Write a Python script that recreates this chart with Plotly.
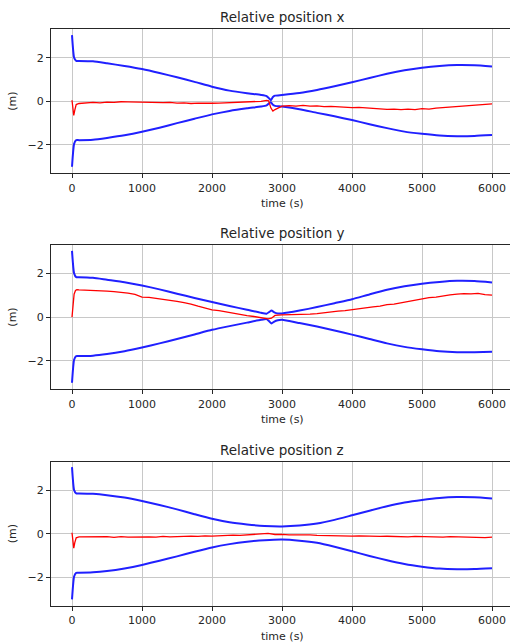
import plotly.graph_objects as go

# ---------------- data ----------------
# Panel x: bounds
tb_x = [0, 30, 60, 100, 300, 500, 750, 1000, 1250, 1500, 1750, 2000, 2250, 2500, 2700, 2780, 2820, 2840,
        2870, 2900, 3000, 3250, 3500, 3750, 4000, 4250, 4500, 4750, 5000, 5250, 5500, 5750, 6000]
up_x = [3.03, 2.0, 1.85, 1.85, 1.83, 1.74, 1.62, 1.48, 1.30, 1.10, 0.89, 0.67, 0.49, 0.37, 0.29, 0.24, 0.12, 0.05,
        0.20, 0.26, 0.29, 0.38, 0.52, 0.69, 0.87, 1.07, 1.26, 1.42, 1.54, 1.62, 1.66, 1.65, 1.60]
lo_x = [-3.0, -1.95, -1.78, -1.78, -1.76, -1.68, -1.56, -1.40, -1.21, -1.00, -0.80, -0.60, -0.44, -0.32, -0.24, -0.19, -0.08, -0.04,
        -0.16, -0.21, -0.24, -0.36, -0.53, -0.69, -0.86, -1.05, -1.23, -1.39, -1.49, -1.57, -1.60, -1.59, -1.55]
# Panel x: estimate
tr_x = [0, 10, 25, 40, 60, 100, 200, 300, 400, 500, 600, 700, 800, 900, 1000, 1100, 1200, 1300, 1400, 1500,
        1600, 1700, 1800, 1900, 2000, 2100, 2200, 2300, 2400, 2500, 2600, 2700, 2780, 2810, 2840, 2870, 2900,
        2950, 3000, 3100, 3200, 3300, 3400, 3500, 3600, 3700, 3800, 3900, 4000, 4100, 4200, 4300, 4400, 4500,
        4600, 4700, 4800, 4900, 5000, 5100, 5200, 5300, 5400, 5500, 5600, 5700, 5800, 5900, 6000]
est_x = [0.05, -0.30, -0.65, -0.40, -0.15, -0.10, -0.08, -0.05, -0.07, -0.04, -0.05, -0.02, -0.03, -0.04, -0.02,
         -0.05, -0.04, -0.06, -0.05, -0.08, -0.07, -0.10, -0.08, -0.10, -0.09, -0.08, -0.07, -0.06, -0.06, -0.04,
         -0.03, 0.00, 0.04, 0.02, -0.30, -0.45, -0.38, -0.28, -0.22, -0.20, -0.22, -0.19, -0.22, -0.21, -0.24,
         -0.23, -0.26, -0.27, -0.29, -0.28, -0.31, -0.33, -0.34, -0.37, -0.36, -0.38, -0.36, -0.38, -0.34, -0.36,
         -0.31, -0.29, -0.27, -0.24, -0.23, -0.19, -0.17, -0.15, -0.12]

# Panel y: bounds
tb_y = [0, 30, 60, 100, 300, 500, 750, 1000, 1250, 1500, 1750, 2000, 2250, 2500, 2700, 2780, 2820, 2850,
        2890, 2940, 3000, 3250, 3500, 3750, 4000, 4250, 4500, 4750, 5000, 5250, 5500, 5750, 6000]
up_y = [3.03, 2.0, 1.83, 1.83, 1.80, 1.71, 1.60, 1.45, 1.27, 1.07, 0.88, 0.69, 0.51, 0.34, 0.20, 0.16, 0.24, 0.30,
        0.22, 0.17, 0.17, 0.30, 0.46, 0.64, 0.82, 1.04, 1.25, 1.41, 1.53, 1.61, 1.66, 1.65, 1.59]
lo_y = [-3.0, -1.95, -1.78, -1.78, -1.76, -1.69, -1.56, -1.39, -1.20, -1.00, -0.79, -0.58, -0.41, -0.25, -0.12, -0.09, -0.20, -0.29,
        -0.20, -0.14, -0.12, -0.27, -0.43, -0.61, -0.80, -1.00, -1.20, -1.36, -1.47, -1.56, -1.60, -1.60, -1.58]
tr_y = [0, 10, 30, 50, 70, 100, 200, 300, 400, 500, 600, 700, 800, 900, 1000, 1100, 1200, 1300, 1400, 1500,
        1600, 1700, 1800, 1900, 2000, 2100, 2200, 2300, 2400, 2500, 2600, 2700, 2800, 2850, 2900, 3000, 3100,
        3200, 3300, 3400, 3500, 3600, 3700, 3800, 3900, 4000, 4100, 4200, 4300, 4400, 4500, 4600, 4700, 4800,
        4900, 5000, 5100, 5200, 5300, 5400, 5500, 5600, 5700, 5800, 5900, 6000]
est_y = [0.00, 0.45, 1.05, 1.22, 1.26, 1.25, 1.24, 1.21, 1.23, 1.19, 1.17, 1.14, 1.10, 1.04, 0.92, 0.90, 0.86,
         0.83, 0.76, 0.72, 0.66, 0.60, 0.50, 0.43, 0.33, 0.30, 0.24, 0.20, 0.11, 0.07, 0.03, -0.02, -0.08, -0.05,
         0.08, 0.10, 0.11, 0.09, 0.13, 0.14, 0.16, 0.21, 0.23, 0.28, 0.30, 0.35, 0.38, 0.43, 0.47, 0.50, 0.57,
         0.60, 0.66, 0.70, 0.77, 0.85, 0.89, 0.92, 0.98, 1.02, 1.05, 1.08, 1.06, 1.09, 1.03, 1.01]

# Panel z: bounds
tb_z = [0, 30, 60, 100, 300, 500, 750, 1000, 1250, 1500, 1750, 2000, 2250, 2500, 2750, 3000, 3250, 3500,
        3750, 4000, 4250, 4500, 4750, 5000, 5250, 5500, 5750, 6000]
up_z = [3.05, 2.0, 1.85, 1.85, 1.83, 1.77, 1.66, 1.50, 1.32, 1.12, 0.90, 0.69, 0.53, 0.43, 0.36, 0.34, 0.38, 0.47,
        0.64, 0.85, 1.06, 1.26, 1.43, 1.55, 1.64, 1.68, 1.67, 1.62]
lo_z = [-3.0, -1.95, -1.78, -1.78, -1.76, -1.70, -1.58, -1.42, -1.23, -1.03, -0.82, -0.62, -0.47, -0.36, -0.29, -0.26, -0.31, -0.41,
        -0.59, -0.80, -1.01, -1.21, -1.38, -1.50, -1.59, -1.62, -1.61, -1.57]
tr_z = [0, 10, 25, 40, 60, 100, 200, 300, 400, 500, 600, 700, 800, 900, 1000, 1100, 1200, 1300, 1400, 1500,
        1600, 1700, 1800, 1900, 2000, 2100, 2200, 2300, 2400, 2500, 2600, 2700, 2800, 2900, 3000, 3100, 3200,
        3300, 3400, 3500, 3600, 3700, 3800, 3900, 4000, 4100, 4200, 4300, 4400, 4500, 4600, 4700, 4800, 4900,
        5000, 5100, 5200, 5300, 5400, 5500, 5600, 5700, 5800, 5900, 6000]
est_z = [0.05, -0.30, -0.65, -0.40, -0.18, -0.14, -0.13, -0.15, -0.12, -0.13, -0.16, -0.13, -0.15, -0.14, -0.16,
         -0.14, -0.15, -0.12, -0.14, -0.12, -0.13, -0.10, -0.12, -0.09, -0.10, -0.08, -0.09, -0.06, -0.07, -0.05,
         -0.04, 0.00, 0.02, -0.03, -0.02, -0.05, -0.04, -0.06, -0.05, -0.07, -0.08, -0.06, -0.09, -0.08, -0.10,
         -0.09, -0.11, -0.10, -0.12, -0.11, -0.13, -0.12, -0.14, -0.12, -0.13, -0.11, -0.14, -0.15, -0.13, -0.14,
         -0.16, -0.14, -0.15, -0.17, -0.15]

titles = ["Relative position x", "Relative position y", "Relative position z"]
x_ticks = [0, 1000, 2000, 3000, 4000, 5000, 6000]
y_ticks = [-2, 0, 2]
x_label = "time (s)"
y_label = "(m)"

# ---------------- layout geometry (pixels) ----------------
W, H = 510, 642
L = 51
PW = W - L
panels_px = [(29.3, 173.3), (245.0, 389.3), (461.7, 606.0)]
CX = (282 - L) / PW  # horizontal centre of the (partly off-page) axes box
BLUE = "#2020ff"
RED = "#ff0000"
FONT = "DejaVu Sans"
TXT = "#262626"

panels = [
    (tb_x, up_x, lo_x, tr_x, est_x),
    (tb_y, up_y, lo_y, tr_y, est_y),
    (tb_z, up_z, lo_z, tr_z, est_z),
]

fig = go.Figure()
annotations = []
layout = {}
for i, (tb, up, lo, tr, est) in enumerate(panels):
    n = "" if i == 0 else str(i + 1)
    xa, ya = "x" + n, "y" + n
    for b in (up, lo):
        fig.add_trace(go.Scatter(x=tb, y=b, mode="lines",
                                 line=dict(color=BLUE, width=2, shape="spline", smoothing=0.5),
                                 xaxis=xa, yaxis=ya, showlegend=False))
    fig.add_trace(go.Scatter(x=tr, y=est, mode="lines", line=dict(color=RED, width=1.3),
                             xaxis=xa, yaxis=ya, showlegend=False))
    top, bot = panels_px[i]
    dom = [1 - bot / H, 1 - top / H]
    common = dict(showgrid=True, gridcolor="#c8c8c8", gridwidth=1, zeroline=False,
                  showline=True, linecolor=TXT, linewidth=1,
                  ticks="outside", ticklen=4, tickcolor=TXT, tickwidth=1,
                  tickfont=dict(family=FONT, size=11, color=TXT))
    layout["xaxis" + n] = dict(common, domain=[0, 1], anchor=ya, range=[-300, 6257],
                               tickvals=x_ticks, mirror=True, automargin=False)
    layout["yaxis" + n] = dict(common, domain=dom, anchor=xa, range=[-3.3, 3.3],
                               tickvals=y_ticks, automargin=False)
    annotations.append(dict(text=titles[i], xref="paper", yref="paper", x=CX,
                            y=1 - (top - 12) / H, showarrow=False, xanchor="center", yanchor="middle",
                            font=dict(family=FONT, size=13.5, color=TXT)))
    annotations.append(dict(text=x_label, xref="paper", yref="paper", x=CX,
                            y=1 - (bot + 30.5) / H, showarrow=False, xanchor="center", yanchor="middle",
                            font=dict(family=FONT, size=11, color=TXT)))
    annotations.append(dict(text=y_label, xref="paper", yref="paper", x=(12.5 - L) / PW,
                            y=1 - ((top + bot) / 2) / H, showarrow=False, xanchor="center", yanchor="middle",
                            textangle=-90, font=dict(family=FONT, size=11, color=TXT)))

fig.update_layout(**layout)
fig.update_layout(width=W, height=H, margin=dict(l=L, r=0, t=0, b=0),
                  paper_bgcolor="white", plot_bgcolor="white",
                  annotations=annotations)
fig.write_html("out.html", config={"displayModeBar": False},
               post_script="document.body.style.margin='0';document.body.style.overflow='hidden';")
